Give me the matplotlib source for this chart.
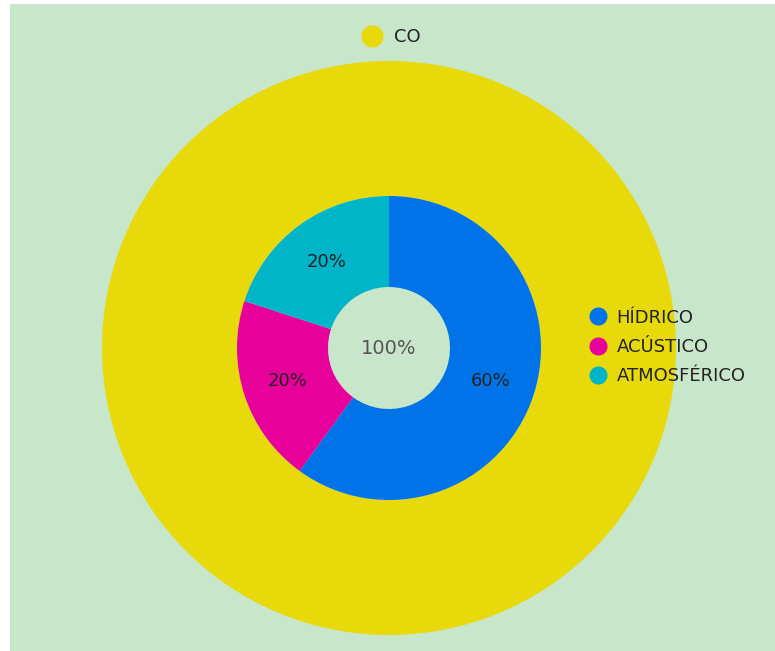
import matplotlib.pyplot as plt
from matplotlib.lines import Line2D
from matplotlib.patches import Rectangle

# data
outer_labels = ['CO']
outer_values = [100]
inner_labels = ['HÍDRICO', 'ACÚSTICO', 'ATMOSFÉRICO']
inner_values = [60, 20, 20]
center_text = '100%'

# colors
bg = '#c8e6c9'
yellow = '#e8d90b'
inner_colors = ['#0073e8', '#e8009b', '#00b5c8']
textcol = '#222222'

plt.rcParams['font.family'] = ['DejaVu Sans']

W, H = 775, 651
fig = plt.figure(figsize=(W / 100, H / 100), dpi=100)
fig.patch.set_facecolor('white')
# green panel with a thin white margin on left/top
fig.add_artist(Rectangle((10 / W, 0), 1 - 10 / W, 1 - 4 / H,
                         transform=fig.transFigure, facecolor=bg,
                         edgecolor='none', zorder=0))

# pie axes: center (389, 348) px, outer radius 287 px
cx, cy, R = 389, 348, 287
ax = fig.add_axes([(cx - R) / W, (H - cy - R) / H, 2 * R / W, 2 * R / H])
ax.axis('off')

r_in = 152 / R
r_hole = 61 / R

ax.pie(outer_values, radius=1, colors=[yellow], startangle=90,
       counterclock=False, wedgeprops=dict(width=1 - r_in, edgecolor='none'))

wedges, _, autotexts = ax.pie(
    inner_values, radius=r_in, colors=inner_colors, startangle=90,
    counterclock=False, autopct='%.0f%%',
    pctdistance=(r_in + r_hole) / 2 / r_in,
    wedgeprops=dict(width=r_in - r_hole, edgecolor='none'),
    textprops=dict(color=textcol, fontsize=13))
ax.set_xlim(-1, 1)
ax.set_ylim(-1, 1)

ax.text(0, 0, center_text, ha='center', va='center', fontsize=14,
        color='#555555')

# legends
top_handles = [Line2D([], [], marker='o', ls='', color=yellow, markersize=15)]
fig.legend(top_handles, outer_labels, loc='center',
           bbox_to_anchor=(387 / W, 1 - 37 / H), frameon=False,
           fontsize=13, handletextpad=0.2, labelcolor=textcol)

side_handles = [Line2D([], [], marker='o', ls='', color=c, markersize=12)
                for c in inner_colors]
fig.legend(side_handles, inner_labels, loc='center left',
           bbox_to_anchor=(564 / W, 1 - 347 / H), frameon=False,
           fontsize=13, handletextpad=0.0, labelspacing=0.62,
           labelcolor=textcol)

fig.savefig('out.png', dpi=100, facecolor=fig.get_facecolor())
